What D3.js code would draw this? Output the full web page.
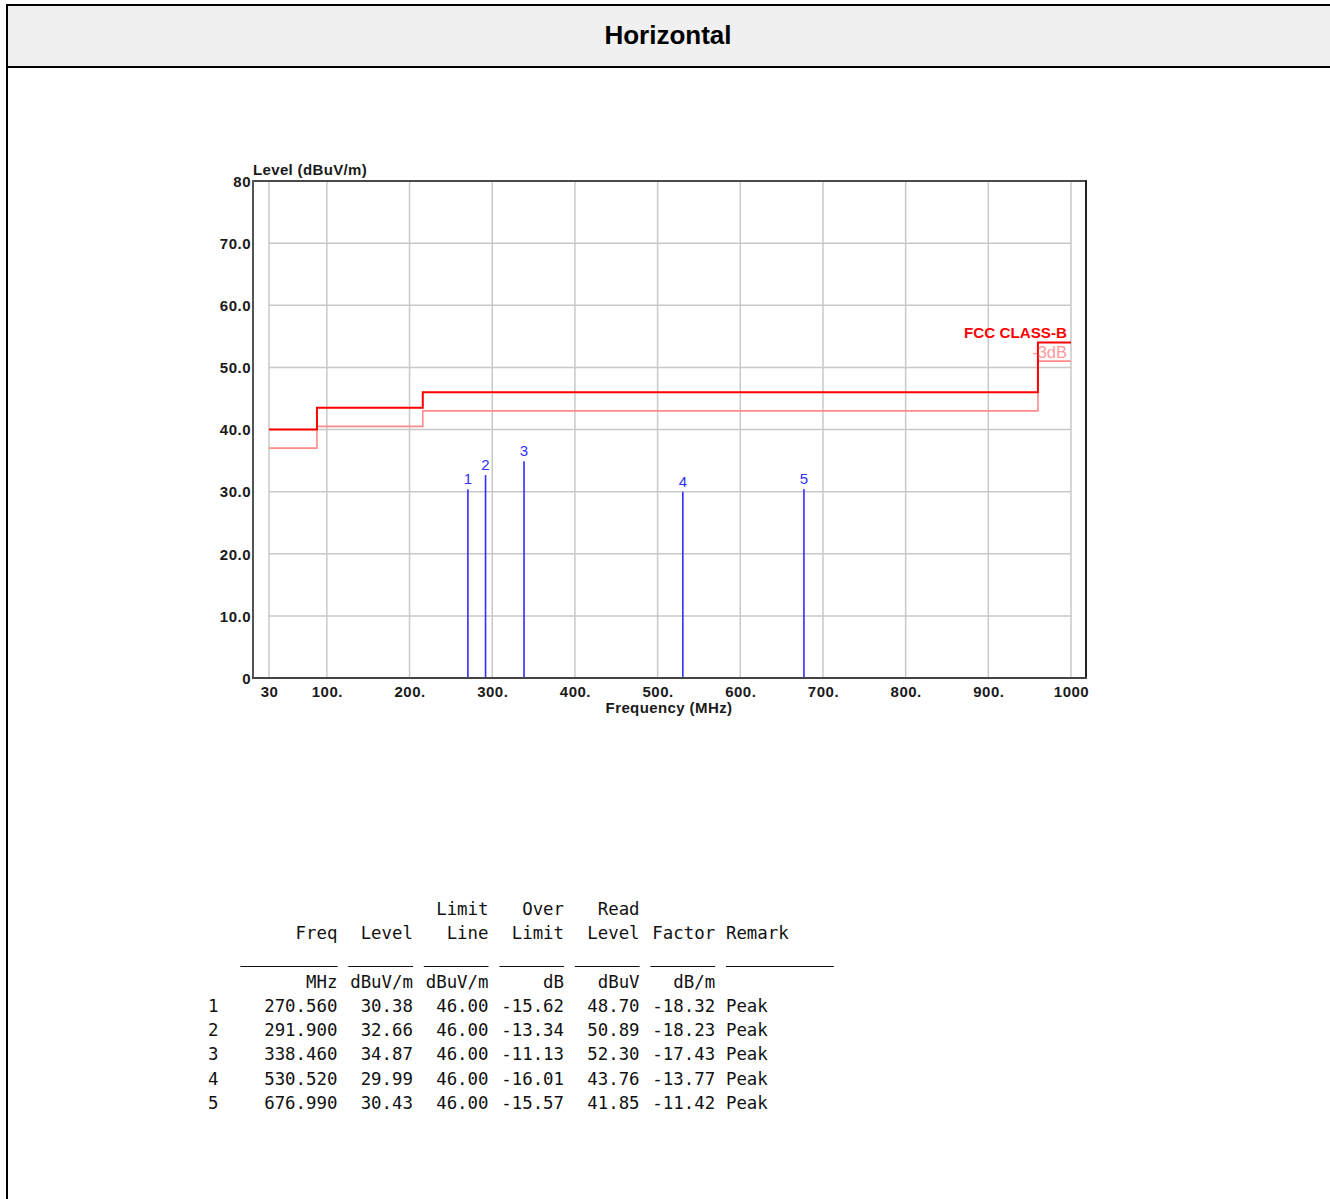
<!DOCTYPE html>
<html>
<head>
<meta charset="utf-8">
<title>Horizontal</title>
<script src="https://cdn.jsdelivr.net/npm/d3@7"></script>
<style>
  html, body { margin: 0; padding: 0; background: #fff; }
  svg { display: block; }
</style>
</head>
<body>
<svg id="page" width="1330" height="1199"></svg>
<script>
// ---- Data -------------------------------------------------------------
const xTickValues = [30, 100, 200, 300, 400, 500, 600, 700, 800, 900, 1000];
const xTickLabels = ["30", "100.", "200.", "300.", "400.", "500.", "600.", "700.", "800.", "900.", "1000"];
const yTickValues = [0, 10, 20, 30, 40, 50, 60, 70, 80];
const yTickLabels = ["0", "10.0", "20.0", "30.0", "40.0", "50.0", "60.0", "70.0", "80"];

// FCC Class B radiated limit (step edges in MHz, level per band in dBuV/m)
const limitEdges = [30, 88, 216, 960, 1000];
const limitLevels = [40, 43.5, 46, 54];
const marginOffset = 3; // "-3dB" margin line

// Measured peaks
const markerIds = [1, 2, 3, 4, 5];
const freqMHz = [270.560, 291.900, 338.460, 530.520, 676.990];
const levelDb = [30.38, 32.66, 34.87, 29.99, 30.43];
const limitLine = [46.00, 46.00, 46.00, 46.00, 46.00];
const overLimit = [-15.62, -13.34, -11.13, -16.01, -15.57];
const readLevel = [48.70, 50.89, 52.30, 43.76, 41.85];
const factor = [-18.32, -18.23, -17.43, -13.77, -11.42];
const remark = ["Peak", "Peak", "Peak", "Peak", "Peak"];

// ---- Page frame and header ----------------------------------------------
const svg = d3.select("#page");

svg.append("rect").attr("x", 7).attr("y", 5).attr("width", 1330).attr("height", 62)
  .attr("fill", "#f0f0f0");
svg.append("line").attr("x1", 6).attr("x2", 1330).attr("y1", 5).attr("y2", 5)
  .attr("stroke", "#000").attr("stroke-width", 2);
svg.append("line").attr("x1", 6).attr("x2", 1330).attr("y1", 67).attr("y2", 67)
  .attr("stroke", "#000").attr("stroke-width", 2);
svg.append("line").attr("x1", 7).attr("x2", 7).attr("y1", 4).attr("y2", 1199)
  .attr("stroke", "#000").attr("stroke-width", 2);

svg.append("text").attr("x", 668).attr("y", 44)
  .attr("text-anchor", "middle")
  .style("font-family", "'Liberation Sans', Arial, sans-serif")
  .style("font-weight", "bold").style("font-size", "26px").attr("fill", "#000")
  .text("Horizontal");

// ---- Chart -------------------------------------------------------------
const frame = { left: 253, right: 1086, top: 181, bottom: 678 };
const x = d3.scaleLinear().domain([30, 1000]).range([269, 1071]);
const y = d3.scaleLinear().domain([0, 80]).range([frame.bottom, frame.top]);

const chart = svg.append("g");
const labelFont = "'Liberation Sans', Arial, sans-serif";

// grid
chart.append("g").selectAll("line").data(xTickValues).join("line")
  .attr("x1", d => x(d)).attr("x2", d => x(d))
  .attr("y1", frame.top).attr("y2", frame.bottom)
  .attr("stroke", "#c8c8c8").attr("stroke-width", 1.5);
chart.append("g").selectAll("line").data(yTickValues.filter(v => v > 0 && v < 80)).join("line")
  .attr("x1", x(30)).attr("x2", x(1000))
  .attr("y1", d => y(d)).attr("y2", d => y(d))
  .attr("stroke", "#c8c8c8").attr("stroke-width", 1.5);

// limit lines as step paths
function stepPoints(offset) {
  const pts = [];
  limitLevels.forEach((lv, i) => {
    pts.push([limitEdges[i], lv - offset]);
    pts.push([limitEdges[i + 1], lv - offset]);
  });
  return pts;
}
const line = d3.line().x(d => x(d[0])).y(d => y(d[1]));

chart.append("path").datum(stepPoints(marginOffset))
  .attr("d", line).attr("fill", "none")
  .attr("stroke", "#ff8c8c").attr("stroke-width", 1.6);
chart.append("path").datum(stepPoints(0))
  .attr("d", line).attr("fill", "none")
  .attr("stroke", "#ff0000").attr("stroke-width", 2);

// legend text for the limit lines
chart.append("text").attr("x", 1067).attr("y", 338).attr("text-anchor", "end")
  .style("font-family", labelFont).style("font-weight", "bold").style("font-size", "15.2px")
  .attr("fill", "#ff0000").text("FCC CLASS-B");
chart.append("text").attr("x", 1067).attr("y", 358).attr("text-anchor", "end")
  .style("font-family", labelFont).style("font-size", "16.5px")
  .attr("fill", "#ff9a9a").text("-3dB");

// peak markers
const markers = markerIds.map((id, i) => ({ id, f: freqMHz[i], lv: levelDb[i] }));
chart.append("g").selectAll("line").data(markers).join("line")
  .attr("x1", d => x(d.f)).attr("x2", d => x(d.f))
  .attr("y1", frame.bottom).attr("y2", d => y(d.lv))
  .attr("stroke", "#2f2fff").attr("stroke-width", 1.6);
chart.append("g").selectAll("text").data(markers).join("text")
  .attr("x", d => x(d.f)).attr("y", d => y(d.lv) - 5)
  .attr("text-anchor", "middle")
  .style("font-family", labelFont).style("font-size", "15px")
  .attr("fill", "#2f2fff").text(d => d.id);

// frame
chart.append("line").attr("x1", frame.left).attr("x2", frame.right)
  .attr("y1", frame.top).attr("y2", frame.top)
  .attr("stroke", "#4a4a4a").attr("stroke-width", 2);
chart.append("line").attr("x1", frame.right).attr("x2", frame.right)
  .attr("y1", frame.top - 1).attr("y2", frame.bottom + 1)
  .attr("stroke", "#222").attr("stroke-width", 2);

// axes
const yAxis = d3.axisLeft(y).tickValues(yTickValues)
  .tickFormat((d, i) => yTickLabels[i]).tickSize(0).tickPadding(2);
const yg = chart.append("g").attr("transform", `translate(${frame.left},0)`).call(yAxis);
const xAxis = d3.axisBottom(x).tickValues(xTickValues)
  .tickFormat((d, i) => xTickLabels[i]).tickSize(0).tickPadding(8);
const xg = chart.append("g").attr("transform", `translate(0,${frame.bottom})`).call(xAxis);

[yg, xg].forEach(g => {
  g.select(".domain").remove();
  g.selectAll("text")
    .style("font-family", labelFont).style("font-weight", "bold")
    .style("font-size", "15px").style("letter-spacing", "0.5px")
    .attr("fill", "#1a1a1a");
});
yg.selectAll("text").attr("dy", "0.35em");
xg.selectAll("text").attr("dy", "0.71em");

chart.append("line").attr("x1", frame.left).attr("x2", frame.left)
  .attr("y1", frame.top - 1).attr("y2", frame.bottom + 1)
  .attr("stroke", "#555").attr("stroke-width", 2);
chart.append("line").attr("x1", frame.left - 1).attr("x2", frame.right + 1)
  .attr("y1", frame.bottom).attr("y2", frame.bottom)
  .attr("stroke", "#444").attr("stroke-width", 2);

chart.append("text").attr("x", frame.left).attr("y", 175)
  .style("font-family", labelFont).style("font-weight", "bold")
  .style("font-size", "15px").style("letter-spacing", "0.35px")
  .attr("fill", "#1a1a1a").text("Level (dBuV/m)");
chart.append("text").attr("x", 669).attr("y", 713).attr("text-anchor", "middle")
  .style("font-family", labelFont).style("font-weight", "bold")
  .style("font-size", "15px").style("letter-spacing", "0.4px")
  .attr("fill", "#1a1a1a").text("Frequency (MHz)");

// ---- Measurement table (fixed-width columns) ---------------------------
const charW = 10.79;
const tx0 = 208;
const colX = i => tx0 + i * charW;
const table = svg.append("g")
  .style("font-family", "'DejaVu Sans Mono', 'Liberation Mono', monospace")
  .style("font-size", "17.4px").attr("fill", "#111");

function cell(text, endCol, yy, anchor) {
  table.append("text")
    .attr("x", colX(endCol)).attr("y", yy)
    .attr("text-anchor", anchor || "end")
    .text(text);
}

const colEnds = [12, 19, 26, 33, 40, 47];
const head1 = [null, null, "Limit", "Over", "Read", null];
const head2 = ["Freq", "Level", "Line", "Limit", "Level", "Factor"];
const units = ["MHz", "dBuV/m", "dBuV/m", "dB", "dBuV", "dB/m"];
const ruleSpans = [[3, 12], [13, 19], [20, 26], [27, 33], [34, 40], [41, 47], [48, 58]];

head1.forEach((t, i) => { if (t) cell(t, colEnds[i], 915); });
head2.forEach((t, i) => cell(t, colEnds[i], 939));
cell("Remark", 48, 939, "start");

table.append("g").selectAll("line").data(ruleSpans).join("line")
  .attr("x1", d => colX(d[0])).attr("x2", d => colX(d[1]))
  .attr("y1", 966.5).attr("y2", 966.5)
  .attr("stroke", "#111").attr("stroke-width", 1.2);

units.forEach((t, i) => cell(t, colEnds[i], 988));

const rowY0 = 1012, rowStep = 24.2;
markerIds.forEach((id, r) => {
  const yy = rowY0 + r * rowStep;
  cell(String(id), 0, yy, "start");
  cell(freqMHz[r].toFixed(3), 12, yy);
  cell(levelDb[r].toFixed(2), 19, yy);
  cell(limitLine[r].toFixed(2), 26, yy);
  cell(overLimit[r].toFixed(2), 33, yy);
  cell(readLevel[r].toFixed(2), 40, yy);
  cell(factor[r].toFixed(2), 47, yy);
  cell(remark[r], 48, yy, "start");
});
</script>
</body>
</html>
